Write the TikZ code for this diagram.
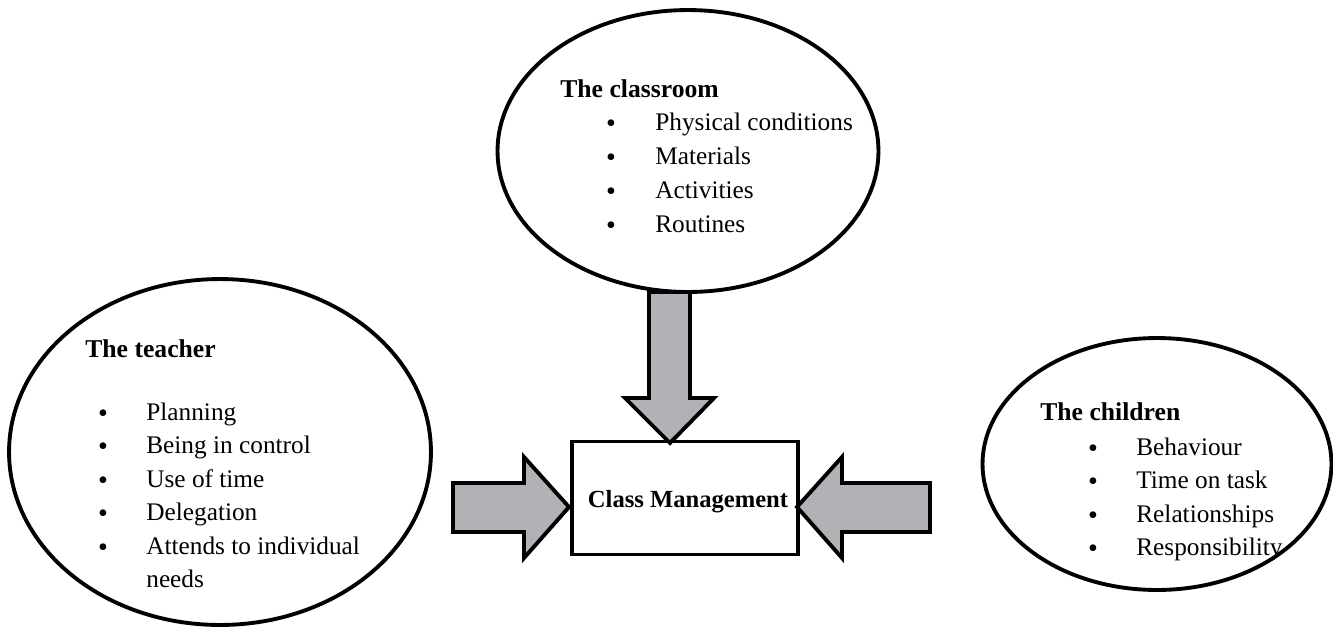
\documentclass[tikz,border=0pt]{standalone}
\usepackage{fontspec}
\setmainfont{Liberation Serif}
\usetikzlibrary{shapes.geometric}
\definecolor{arrowgray}{RGB}{177,178,182}

\tikzset{
  bubble/.style={draw, ellipse, line width=2.2pt, inner sep=0pt},
  entry/.style={anchor=base west, inner sep=0pt, font=\fontsize{14.4}{16}\selectfont},
  title/.style={entry, font=\fontsize{14.6}{16}\selectfont\bfseries},
  dot/.style={anchor=base, inner sep=0pt, font=\fontsize{16}{16}\selectfont},
  fatarrow/.style={draw, fill=arrowgray, line width=2.2pt, line join=miter},
}

\begin{document}
\begin{tikzpicture}[x=0.02cm, y=-0.02cm]
\useasboundingbox (0,0) rectangle (1333,627);

\node[bubble, minimum width=8.44cm, minimum height=6.92cm] (teacher) at (220,452) {};
\node[bubble, minimum width=7.62cm, minimum height=5.64cm] (classroom) at (688,151) {};
\node[bubble, minimum width=6.98cm, minimum height=5.04cm] (children) at (1157,464) {};
\node[draw, line width=2.2pt, minimum width=4.52cm, minimum height=2.26cm] (box) at (685,498) {};
\node[title, anchor=base, font=\fontsize{14}{16}\selectfont\bfseries] (boxtext) at (688,507) {Class Management};

% arrows into the box
\draw[fatarrow] (649,292) -- (649,398) -- (625,398) -- (670,443) -- (714,398) -- (690,398) -- (690,292) -- cycle;
\draw[fatarrow] (453,483) -- (524,483) -- (524,457) -- (569,507) -- (524,558) -- (524,532) -- (453,532) -- cycle;
\draw[fatarrow] (930,483) -- (842,483) -- (842,457) -- (797,507) -- (842,558) -- (842,532) -- (930,532) -- cycle;

% the teacher
\node[title] (teachertitle) at (85,357) {The teacher};
\foreach \t [count=\i] in {Planning, Being in control, Use of time, Delegation, Attends to individual} {
  \node[dot] (tb\i) at (103,{422+33.5*(\i-1)}) {\textbullet};
  \node[entry] (t\i) at (146,{420+33.5*(\i-1)}) {\t};
}
\node[entry] (t6) at (146,587) {needs};

% the classroom
\node[title] (classtitle) at (560,97) {The classroom};
\foreach \t [count=\i] in {Physical conditions, Materials, Activities, Routines} {
  \node[dot] (cb\i) at (611,{132+34*(\i-1)}) {\textbullet};
  \node[entry] (c\i) at (655,{130+34*(\i-1)}) {\t};
}

% the children
\node[title] (childtitle) at (1040,420) {The children};
\foreach \t [count=\i] in {Behaviour, Time on task, Relationships, Responsibility} {
  \node[dot] (kb\i) at (1093,{457+33.5*(\i-1)}) {\textbullet};
  \node[entry] (k\i) at (1136,{455+33.5*(\i-1)}) {\t};
}
\end{tikzpicture}
\end{document}
